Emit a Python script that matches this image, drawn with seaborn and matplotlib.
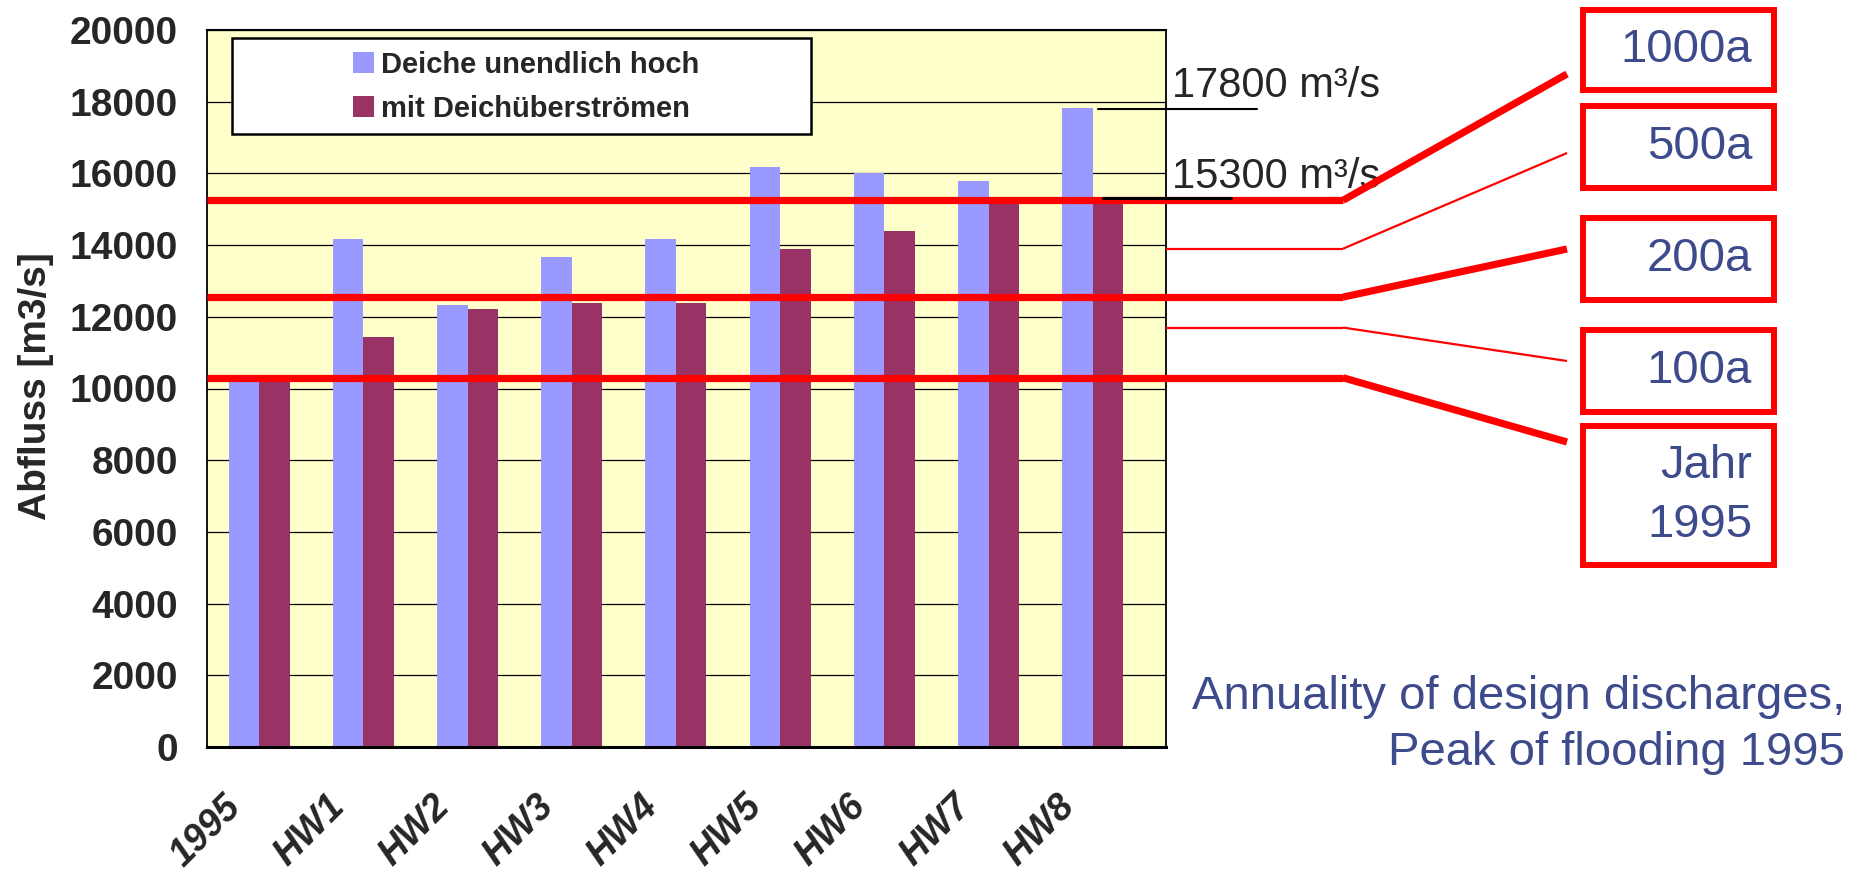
import numpy as np
import pandas as pd
import matplotlib
matplotlib.use('Agg')
import matplotlib.pyplot as plt
import matplotlib.transforms as mtransforms
from matplotlib.patches import Rectangle, ConnectionPatch, Patch
import seaborn as sns

# --- data ---
categories = ['1995', 'HW1', 'HW2', 'HW3', 'HW4', 'HW5', 'HW6', 'HW7', 'HW8']
deiche_hoch = [10250, 14180, 12340, 13670, 14180, 16180, 16000, 15790, 17830]
mit_ueberstroemen = [10250, 11440, 12220, 12390, 12390, 13900, 14400, 15250, 15250]
series_names = ['Deiche unendlich hoch', 'mit Deichüberströmen']
bar_colors = ['#9999FF', '#993366']

# design discharges (annuality) as red lines
level_labels = ['1000a', '500a', '200a', '100a', 'Jahr\n1995']
level_values = [15250, 13900, 12550, 11700, 10300]
level_thick = [True, False, True, False, True]

peak_labels = ['17800 m³/s', '15300 m³/s']
peak_values = [17800, 15300]

df = pd.DataFrame({
    'Ereignis': categories * 2,
    'Abfluss': deiche_hoch + mit_ueberstroemen,
    'Szenario': [series_names[0]] * len(categories) + [series_names[1]] * len(categories),
})

sns.set_style('white')
plt.rcParams['font.family'] = ['Liberation Sans', 'DejaVu Sans']

W, H = 1860, 874
def fx(px):
    return px / W
def fy(py):
    return 1 - py / H

fig = plt.figure(figsize=(18.6, 8.74), dpi=100)
ax = fig.add_axes([fx(207), fy(747), fx(1166) - fx(207), fy(30) - fy(747)])
ax.set_facecolor('#FFFFCC')

sns.barplot(data=df, x='Ereignis', y='Abfluss', hue='Szenario', palette=bar_colors,
            width=0.585, saturation=1, linewidth=0, errorbar=None, ax=ax, zorder=2)

ax.set_xlim(-0.5, (1166 - 207) / 104.2 - 0.5)
ax.set_ylim(0, 20000)
ax.set_yticks(range(0, 20001, 2000))
ax.yaxis.grid(True, color='black', lw=0.9)
ax.set_axisbelow(True)

for side, lw in [('left', 1.3), ('bottom', 2.2), ('top', 1.5), ('right', 1.3)]:
    ax.spines[side].set_visible(True)
    ax.spines[side].set_color('black')
    ax.spines[side].set_linewidth(lw)

ax.tick_params(axis='y', direction='out', length=8, width=1, color='black', pad=13, labelsize=28)
plt.setp(ax.get_yticklabels(), fontweight='bold')

ax.set_xticks(range(len(categories)))
ax.set_xticklabels(categories, rotation=45, ha='right', fontsize=27,
                   fontweight='bold', fontstyle='italic')
ax.tick_params(axis='x', which='major', length=0, pad=30)
ax.set_xticks(np.arange(-0.5, len(categories), 1), minor=True)
ax.tick_params(axis='x', which='minor', direction='out', length=9, width=1, color='black')
shift = mtransforms.ScaledTranslation(-0.11, 0, fig.dpi_scale_trans)
for lab in ax.get_xticklabels():
    lab.set_transform(lab.get_transform() + shift)

ax.set_xlabel('')
ax.set_ylabel('Abfluss [m3/s]', fontsize=28, fontweight='bold')
ax.yaxis.set_label_coords(-0.16, 0.503)

# legend with a wide white frame
ax.add_patch(Rectangle((0.026, 0.855), 0.604, 0.134, transform=ax.transAxes,
                       facecolor='white', edgecolor='black', lw=1.8, zorder=4))
handles = [Patch(facecolor=c, edgecolor='none') for c in bar_colors]
ax.legend(handles, series_names, loc='center', bbox_to_anchor=(0.333, 0.921),
          frameon=False, prop={'size': 21, 'weight': 'bold'}, handlelength=0.7,
          handleheight=0.7, handletextpad=0.25, labelspacing=0.55)

# red design lines leading to the boxes on the right
blend = mtransforms.blended_transform_factory(ax.transAxes, ax.transData)
knee = (1343 - 207) / 959
end_y = [74, 153, 249, 361, 442]
box_top = [7, 103, 215, 327, 423]
box_bottom = [93, 191, 303, 415, 568]
for lab, val, thick, ey, bt, bb in zip(level_labels, level_values, level_thick,
                                       end_y, box_top, box_bottom):
    lw = 5.2 if thick else 1.6
    x0 = 0 if thick else 1
    ax.plot([x0, knee], [val, val], transform=blend, color='red', lw=lw,
            solid_capstyle='butt', clip_on=False, zorder=3)
    con = ConnectionPatch(xyA=(knee, val), coordsA=blend, xyB=(fx(1567), fy(ey)),
                          coordsB=fig.transFigure, color='red', lw=lw, capstyle='butt')
    fig.add_artist(con)
    fig.add_artist(Rectangle((fx(1583), fy(bb - 3)), fx(1774) - fx(1583),
                             fy(bt + 3) - fy(bb - 3), transform=fig.transFigure,
                             fill=False, edgecolor='red', lw=4.3))
    fig.text(fx(1752), fy((bt + bb) / 2), lab, ha='right', va='center', fontsize=34,
             color='#3D4A8C', linespacing=1.45, multialignment='right')

# peak discharge annotations
peak_spans = [(0.929, 1.095), (0.934, 1.068)]
peak_lw = [1.5, 2.2]
peak_off = [8.6, 7.6]
for lab, val, (a, b), lw, off in zip(peak_labels, peak_values, peak_spans, peak_lw, peak_off):
    ax.plot([a, b], [val, val], transform=blend, color='black', lw=lw,
            clip_on=False, zorder=5)
    ax.annotate(lab, xy=(1.006, val), xycoords=blend, xytext=(0, off),
                textcoords='offset points', fontsize=30, va='baseline', ha='left')

fig.text(fx(1845), fy(725), 'Annuality of design discharges,\nPeak of flooding 1995',
         ha='right', va='center', fontsize=34, color='#3D4A8C', multialignment='right',
         linespacing=1.33)

fig.savefig('out.png', dpi=100)
